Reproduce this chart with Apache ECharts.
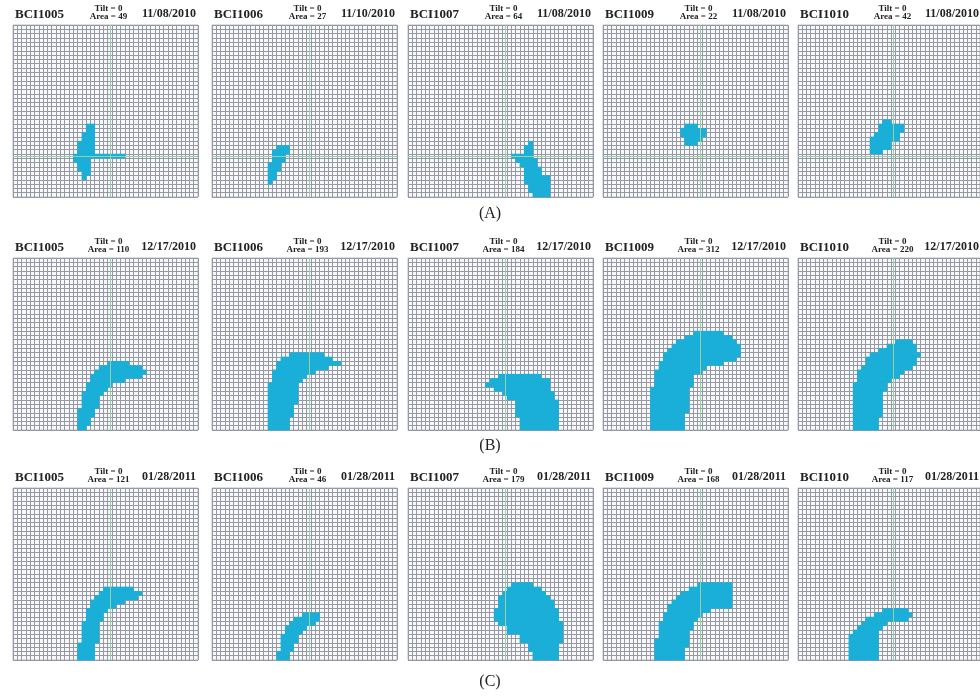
<!DOCTYPE html>
<html>
<head>
<meta charset="utf-8">
<script src="https://cdn.jsdelivr.net/npm/echarts@6/dist/echarts.min.js"></script>
<style>
  html, body { margin: 0; padding: 0; background: #fff; }
  #chart { width: 980px; height: 696px; }
</style>
</head>
<body>
<div id="chart"></div>
<script>
// grid size of every map (columns x rows)
const COLS = 43
const ROWS = 40
// reference cross (column / row index of the green lines)
const crossCol = 22
const crossRow = 30

const plots = ['BCI1005', 'BCI1006', 'BCI1007', 'BCI1009', 'BCI1010']
const rowLabels = ['(A)', '(B)', '(C)']
const datesA = ['11/08/2010', '11/10/2010', '11/08/2010', '11/08/2010', '11/08/2010']
const datesB = ['12/17/2010', '12/17/2010', '12/17/2010', '12/17/2010', '12/17/2010']
const datesC = ['01/28/2011', '01/28/2011', '01/28/2011', '01/28/2011', '01/28/2011']
const tiltA = [0, 0, 0, 0, 0]
const tiltB = [0, 0, 0, 0, 0]
const tiltC = [0, 0, 0, 0, 0]
const areaA = [49, 27, 64, 22, 42]
const areaB = [110, 193, 184, 312, 220]
const areaC = [121, 46, 179, 168, 117]

// filled cells, as runs: [rowFrom, rowTo, colFrom, colTo]
const cellsA1005 = [[23,24,17,18],[25,26,16,18],[27,29,15,18],[30,30,14,25],[31,31,14,17],[32,33,15,17],[34,34,16,17],[35,35,16,16]]
const cellsA1006 = [[28,28,15,17],[29,29,14,17],[30,31,14,16],[32,33,13,15],[34,35,13,14],[36,36,13,13]]
const cellsA1007 = [[27,27,28,28],[28,29,27,28],[30,30,24,28],[31,31,25,29],[32,32,26,29],[33,34,27,30],[35,36,27,32],[37,38,28,32],[39,39,29,32]]
const cellsA1009 = [[23,23,19,21],[24,25,18,23],[26,26,19,22],[27,27,19,21]]
const cellsA1010 = [[22,22,20,21],[23,24,19,24],[25,25,18,23],[26,26,17,23],[27,28,17,21],[29,29,17,19]]

const cellsB1005 = [[24,24,22,26],[25,25,20,29],[26,26,19,30],[27,27,18,29],[28,28,18,25],[29,29,17,22],[30,30,17,21],[31,31,16,20],[32,34,16,19],[35,36,15,18],[37,38,15,17],[39,39,15,16]]
const cellsB1006 = [[22,22,18,25],[23,23,16,27],[24,24,15,29],[25,25,15,26],[26,26,14,23],[27,27,14,21],[28,28,14,20],[29,33,13,19],[34,36,13,18],[37,39,13,17]]
const cellsB1007 = [[27,27,21,30],[28,28,19,32],[29,29,18,32],[30,30,20,32],[31,31,22,33],[32,32,23,33],[33,36,25,34],[37,39,26,34]]
const cellsB1009 = [[17,17,21,27],[18,18,19,29],[19,19,17,30],[20,20,16,31],[21,21,15,31],[22,22,14,31],[23,23,14,30],[24,24,13,27],[25,25,13,23],[26,26,12,22],[27,29,12,20],[30,35,11,19],[36,39,11,18]]
const cellsB1010 = [[19,19,23,26],[20,20,21,27],[21,21,19,27],[22,22,17,28],[23,24,16,27],[25,25,15,26],[26,26,14,24],[27,27,14,23],[28,28,14,21],[29,30,13,20],[31,36,13,19],[37,39,13,18]]

const cellsC1005 = [[23,23,21,27],[24,24,20,29],[25,25,19,28],[26,26,18,25],[27,27,18,23],[28,28,17,21],[29,30,17,20],[31,35,16,19],[36,39,15,18]]
const cellsC1006 = [[29,29,21,24],[30,30,19,24],[31,31,18,23],[32,32,17,21],[33,33,17,20],[34,35,16,19],[36,37,16,18],[38,39,15,17]]
const cellsC1007 = [[22,22,24,28],[23,23,23,30],[24,24,22,31],[25,25,21,32],[26,27,21,33],[28,30,20,34],[31,31,21,35],[32,33,23,35],[34,35,26,35],[36,37,28,34],[38,39,29,34]]
const cellsC1009 = [[22,22,22,29],[23,23,20,29],[24,24,18,29],[25,25,17,29],[26,26,16,29],[27,27,15,29],[28,28,15,24],[29,29,14,22],[30,30,14,21],[31,32,13,20],[33,34,13,19],[35,36,12,19],[37,39,12,18]]
const cellsC1010 = [[28,28,20,25],[29,29,18,26],[30,30,16,25],[31,31,15,20],[32,32,14,19],[33,33,13,18],[34,39,12,18]]

const panelRows = [
  { dates: datesA, tilt: tiltA, area: areaA, cells: [cellsA1005, cellsA1006, cellsA1007, cellsA1009, cellsA1010] },
  { dates: datesB, tilt: tiltB, area: areaB, cells: [cellsB1005, cellsB1006, cellsB1007, cellsB1009, cellsB1010] },
  { dates: datesC, tilt: tiltC, area: areaC, cells: [cellsC1005, cellsC1006, cellsC1007, cellsC1009, cellsC1010] }
]

// layout
const colLeft = [13, 212, 408, 603, 798]
const colWidth = [185, 185, 185, 185, 183]
const rowTop = [25, 258, 488]
const gridH = 172
const labelY = [215, 447, 683]

const serif = '"Liberation Serif", "DejaVu Serif", serif'
const xCats = Array.from({ length: COLS }, (_, i) => String(i))
const yCats = Array.from({ length: ROWS }, (_, i) => String(i))

function expand(runs) {
  const out = []
  runs.forEach(([r0, r1, c0, c1]) => {
    for (let r = r0; r <= r1; r++) {
      for (let c = c0; c <= c1; c++) out.push([c, r, 1])
    }
  })
  return out
}

const grid = [], xAxis = [], yAxis = [], series = [], graphic = []

panelRows.forEach((pr, ri) => {
  plots.forEach((name, ci) => {
    const idx = ri * plots.length + ci
    const left = colLeft[ci], top = rowTop[ri], w = colWidth[ci]
    grid.push({
      left: left, top: top, width: w, height: gridH,
      show: true, backgroundColor: '#f8f8fa', borderColor: '#b9bcc4', borderWidth: 1
    })
    xAxis.push({
      type: 'category', gridIndex: idx, data: xCats,
      axisLine: { show: false }, axisTick: { show: false }, axisLabel: { show: false },
      splitLine: { show: true, interval: 0, lineStyle: { color: '#9599a4', width: 1 } }
    })
    yAxis.push({
      type: 'category', gridIndex: idx, data: yCats, inverse: true,
      axisLine: { show: false }, axisTick: { show: false }, axisLabel: { show: false },
      splitLine: { show: true, interval: 0, lineStyle: { color: '#9599a4', width: 1 } }
    })
    series.push({
      type: 'heatmap', xAxisIndex: idx, yAxisIndex: idx,
      data: expand(pr.cells[ci]),
      itemStyle: { color: '#19afd8' },
      progressive: 0,
      silent: true,
      markLine: {
        silent: true, symbol: 'none',
        label: { show: false },
        lineStyle: { color: '#94d2a6', type: 'solid', width: 1 },
        data: ri === 0 ? [{ xAxis: crossCol }, { yAxis: crossRow }] : [{ xAxis: crossCol }]
      }
    })
    // header of each map
    graphic.push({
      type: 'text', left: left + 2, top: top - 17,
      style: { text: name, font: 'bold 13px ' + serif, fill: '#222' }
    })
    graphic.push({
      type: 'text', x: left + w / 2 + 3, y: top - 20,
      style: {
        text: 'Tilt = ' + pr.tilt[ci] + '\nArea = ' + pr.area[ci],
        font: 'bold 9px ' + serif, fill: '#222', align: 'center', lineHeight: 8
      }
    })
    graphic.push({
      type: 'text', x: left + w - 2, y: top - 17,
      style: { text: pr.dates[ci], font: 'bold 12px ' + serif, fill: '#222', align: 'right' }
    })
  })
  graphic.push({
    type: 'text', x: 490, y: labelY[ri] - 9,
    style: { text: rowLabels[ri], font: '16px ' + serif, fill: '#222', align: 'center' }
  })
})

const chart = echarts.init(document.getElementById('chart'))
chart.setOption({
  animation: false,
  backgroundColor: '#fff',
  grid: grid,
  xAxis: xAxis,
  yAxis: yAxis,
  series: series,
  graphic: graphic
})
</script>
</body>
</html>
